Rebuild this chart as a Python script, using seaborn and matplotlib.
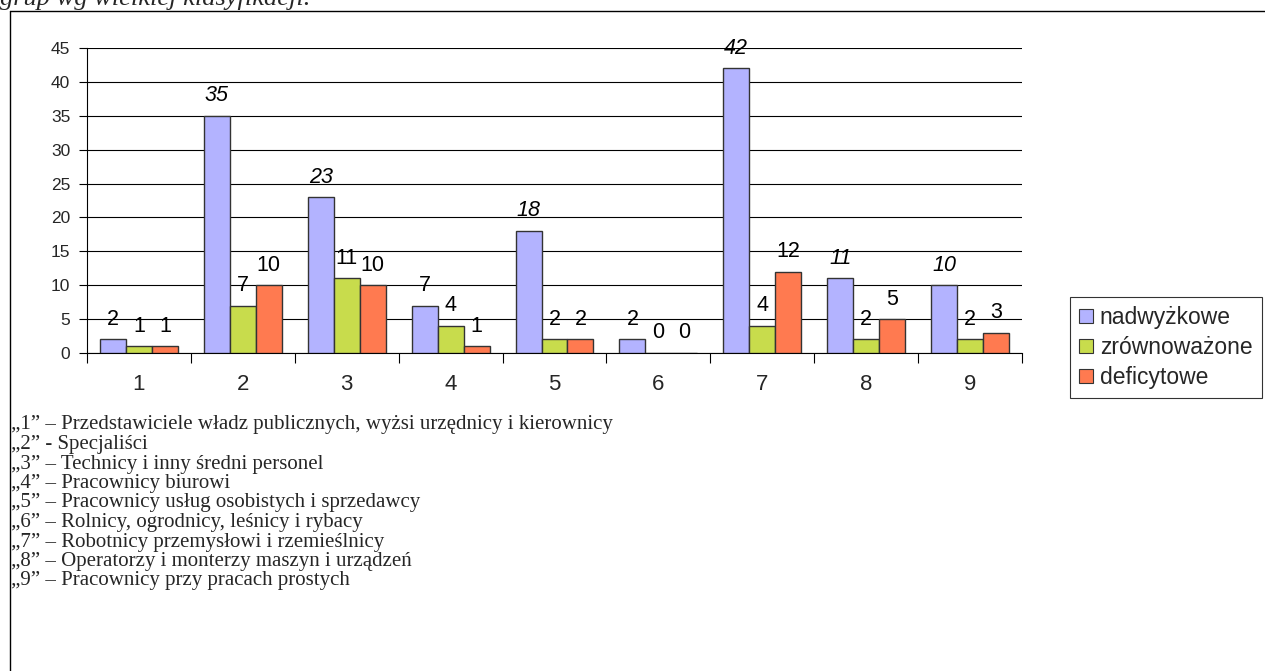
import matplotlib
matplotlib.use("Agg")
import matplotlib.pyplot as plt
from matplotlib.lines import Line2D
import seaborn as sns
import pandas as pd

categories = ["1", "2", "3", "4", "5", "6", "7", "8", "9"]
series_names = ["nadwyżkowe", "zrównoważone", "deficytowe"]
nadwyzkowe = [2, 35, 23, 7, 18, 2, 42, 11, 10]
zrownowazone = [1, 7, 11, 4, 2, 0, 4, 2, 2]
deficytowe = [1, 10, 10, 1, 2, 0, 12, 5, 3]
y_ticks = [0, 5, 10, 15, 20, 25, 30, 35, 40, 45]
title_fragment = "grup wg wielkiej klasyfikacji."
notes = [
    "„1” – Przedstawiciele władz publicznych, wyżsi urzędnicy i kierownicy",
    "„2” - Specjaliści",
    "„3” – Technicy i inny średni personel",
    "„4” – Pracownicy biurowi",
    "„5” – Pracownicy usług osobistych i sprzedawcy",
    "„6” – Rolnicy, ogrodnicy, leśnicy i rybacy",
    "„7” – Robotnicy przemysłowi i rzemieślnicy",
    "„8” – Operatorzy i monterzy maszyn i urządzeń",
    "„9” – Pracownicy przy pracach prostych",
]

colors = ["#b3b3ff", "#c8dc4c", "#ff7a50"]

df = pd.DataFrame({
    "kat": categories * 3,
    "seria": sum([[s] * len(categories) for s in series_names], []),
    "val": nadwyzkowe + zrownowazone + deficytowe,
})

sns.set_style("white")
plt.rcParams['font.family'] = ['Liberation Sans', 'DejaVu Sans']

W, H = 1265, 671
fig = plt.figure(figsize=(W / 100, H / 100), dpi=100)
ax = fig.add_axes([87 / W, 1 - 353 / H, (1022 - 87) / W, (353 - 48) / H])

sns.barplot(data=df, x="kat", y="val", hue="seria", order=categories,
            hue_order=series_names, palette=colors, width=0.75,
            edgecolor="#333333", linewidth=1.0, saturation=1, ax=ax,
            legend=False, zorder=3)

ax.set_xlim(-0.5, len(categories) - 0.5)
ax.set_ylim(0, 45)
ax.set_yticks(y_ticks)
ax.set_yticklabels([str(t) for t in y_ticks], fontsize=12.5)
ax.yaxis.grid(True, color="black", linewidth=0.8, zorder=0)
ax.set_axisbelow(True)
ax.set_xlabel("")
ax.set_ylabel("")
for side in ["top", "right"]:
    ax.spines[side].set_visible(False)
ax.spines["left"].set_color("black")
ax.spines["bottom"].set_color("black")
ax.spines["left"].set_linewidth(0.8)
ax.spines["bottom"].set_linewidth(0.8)
ax.tick_params(axis="y", direction="out", length=6, width=0.8, color="black", left=True, pad=6)
ax.tick_params(axis="x", which="major", length=0, labelsize=16, pad=15)
ax.set_xticks([i + 0.5 for i in range(-1, len(categories))], minor=True)
ax.tick_params(axis="x", which="minor", direction="out", length=7, width=0.8, color="black", bottom=True)

# value labels
for si, cont in enumerate(ax.containers):
    for patch in cont:
        h = patch.get_height()
        xc = patch.get_x() + patch.get_width() / 2
        italic = (si == 0 and h >= 10)
        ax.annotate(f"{int(round(h))}", (xc, h), xytext=(0, 20), textcoords="offset pixels",
                    ha="center", va="center", fontsize=15.5,
                    style="italic" if italic else "normal", color="black",
                    annotation_clip=False)

# legend
handles = [plt.Rectangle((0, 0), 1, 1, facecolor=c, edgecolor="#333333", linewidth=0.8) for c in colors]
leg = fig.legend(handles, series_names, loc="upper left",
                 bbox_to_anchor=(1070 / W, 1 - 297 / H), frameon=True, fancybox=False,
                 fontsize=16.5, handlelength=0.6, handleheight=0.6, handletextpad=0.3,
                 labelspacing=0.3, borderpad=0.4, borderaxespad=0)
leg.get_frame().set_edgecolor("black")
leg.get_frame().set_linewidth(0.8)

# frame lines
fig.add_artist(Line2D([10 / W, 10 / W], [0, 1 - 11 / H], color="black", linewidth=1.0))
fig.add_artist(Line2D([10 / W, 1], [1 - 11 / H, 1 - 11 / H], color="black", linewidth=1.0))

# clipped title fragment
fig.text(0 / W, 1 - 5 / H, title_fragment, fontsize=19, style="italic",
         family=["Liberation Serif", "DejaVu Serif"], ha="left", va="baseline")

# notes
for i, line in enumerate(notes):
    fig.text(11 / W, 1 - (425 + 19.5 * i) / H, line, fontsize=15,
             family=["Liberation Serif", "DejaVu Serif"], ha="left", va="center")

fig.savefig("out.png", dpi=100)
